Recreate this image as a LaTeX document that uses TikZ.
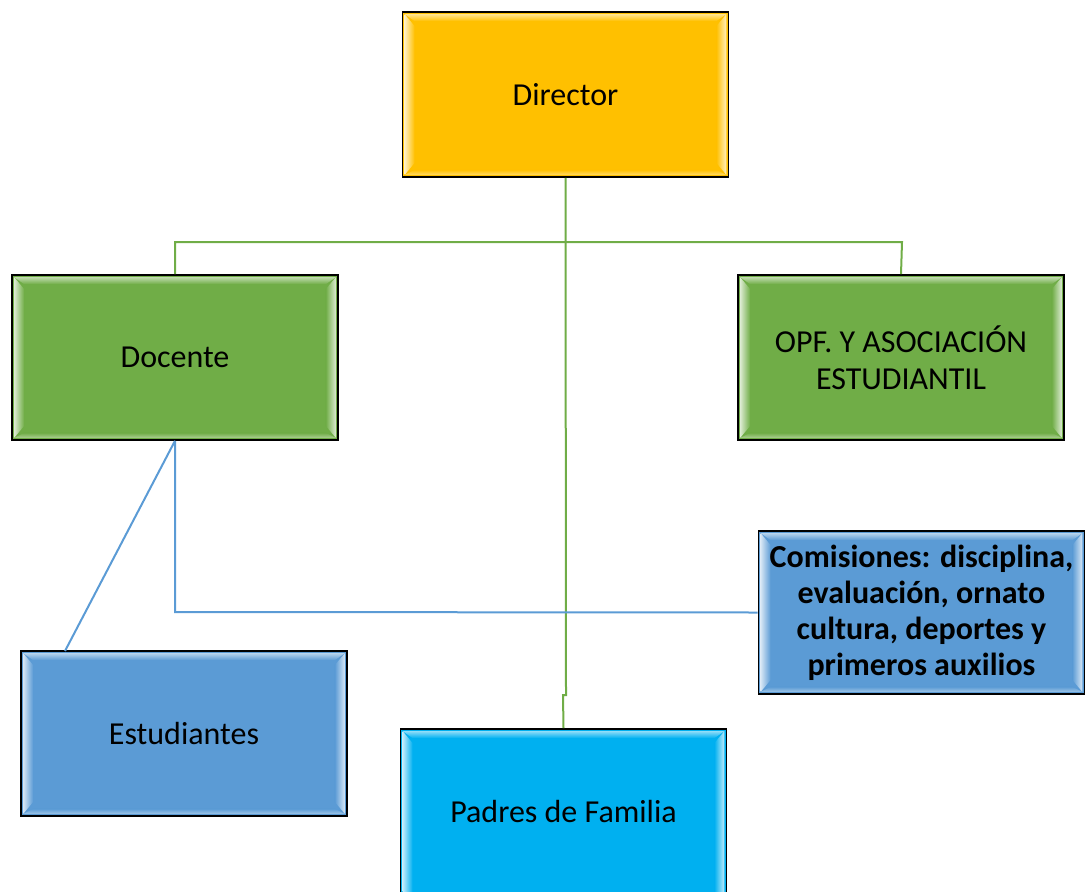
\documentclass[tikz,border=0pt]{standalone}
\usepackage{fontspec}
\setmainfont{Carlito}
\definecolor{cgold}{HTML}{FFC000}
\definecolor{cgreen}{HTML}{70AD47}
\definecolor{cblue}{HTML}{5B9BD5}
\definecolor{ccyan}{HTML}{00B0F0}
\definecolor{lgreen}{HTML}{70AD47}
\definecolor{lblue}{HTML}{5B9BD5}
\newcommand{\bevel}[2]{%
  \path[left color=white!75!#2, right color=#2] ([shift={(3,3)}]#1.north west) -- ([shift={(13,15)}]#1.north west) -- ([shift={(13,-15)}]#1.south west) -- ([shift={(3,-3)}]#1.south west) -- cycle;
  \path[right color=white!75!#2, left color=#2] ([shift={(-3,3)}]#1.north east) -- ([shift={(-13,15)}]#1.north east) -- ([shift={(-13,-15)}]#1.south east) -- ([shift={(-3,-3)}]#1.south east) -- cycle;
  \path[top color=white!55!#2, bottom color=#2] ([shift={(3,3)}]#1.north west) -- ([shift={(-3,3)}]#1.north east) -- ([shift={(-13,10)}]#1.north east) -- ([shift={(13,10)}]#1.north west) -- cycle;
  \path[bottom color=white!40!#2, top color=#2] ([shift={(3,-3)}]#1.south west) -- ([shift={(-3,-3)}]#1.south east) -- ([shift={(-13,-8)}]#1.south east) -- ([shift={(13,-8)}]#1.south west) -- cycle;
}
\begin{document}
\begin{tikzpicture}[x=1pt,y=-1pt,
  orgbox/.style={draw=black, line width=1.6pt, minimum width=326pt, minimum height=165pt, inner sep=0pt, align=center},
  boxtext/.style={font=\fontsize{32}{37}\selectfont, align=center},
  gline/.style={draw=lgreen, line width=2pt},
  bline/.style={draw=lblue, line width=2pt}]
\useasboundingbox (0,0) rectangle (1089,891);
\clip (0,0) rectangle (1089,891);
\coordinate (hl) at (175,242);
\coordinate (hr) at (902,242);
\coordinate (jog1) at (566,695);
\coordinate (jog2) at (563,695);
\coordinate (bc) at (175,612);
\coordinate (estt) at (65,651);
% boxes
\node[orgbox, fill=cgold] (dir) at (565.5,94.5) {};
\node[orgbox, fill=cgreen] (doc) at (175,357.5) {};
\node[orgbox, fill=cgreen] (opf) at (901,357.5) {};
\node[orgbox, fill=cblue, minimum height=163pt] (com) at (921.5,612.5) {};
\node[orgbox, fill=cblue] (est) at (184,733.5) {};
\node[orgbox, fill=ccyan, minimum height=180pt] (pad) at (563.5,819) {};
\bevel{dir}{cgold}
\bevel{doc}{cgreen}
\bevel{opf}{cgreen}
\bevel{com}{cblue}
\bevel{est}{cblue}
\bevel{pad}{ccyan}
\node[boxtext] (tdir) at (dir) {Director};
\node[boxtext] (tdoc) at (doc) {Docente};
\node[boxtext] (topf) at (opf) {OPF. Y ASOCIACIÓN\\ESTUDIANTIL};
\node[boxtext, font=\bfseries\fontsize{32}{36}\selectfont] (tcom) at (com) {Comisiones: disciplina,\\evaluación, ornato\\cultura, deportes y\\primeros auxilios};
\node[boxtext] (test) at (est) {Estudiantes};
\node[boxtext] (tpad) at (563.5,811) {Padres de Familia};
% connectors
\draw[gline] (dir.south) -- (jog1) -- (jog2) -- (pad.north);
\draw[gline] (doc.north) -- (hl) -- (hr) -- (opf.north);
\draw[bline] (doc.south) -- (bc) -- (com.west);
\draw[bline] (doc.south) -- (estt);
\end{tikzpicture}
\end{document}
